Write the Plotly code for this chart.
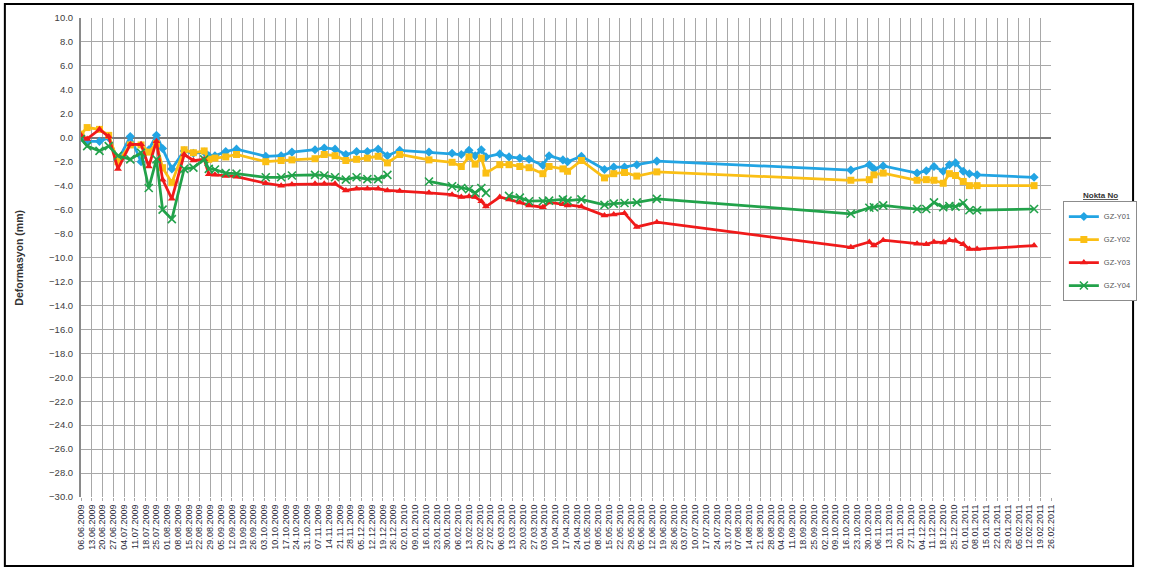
import plotly.graph_objects as go

# Measurement dates (shared by all four survey points)
dates = [
    "2009-06-06", "2009-06-10", "2009-06-18", "2009-06-24", "2009-06-30",
    "2009-07-08", "2009-07-15", "2009-07-20", "2009-07-25", "2009-07-29",
    "2009-08-04", "2009-08-12", "2009-08-18", "2009-08-25", "2009-08-28",
    "2009-09-01", "2009-09-08", "2009-09-15", "2009-10-04", "2009-10-14",
    "2009-10-21", "2009-11-05", "2009-11-11", "2009-11-18", "2009-11-25",
    "2009-12-02", "2009-12-09", "2009-12-16", "2009-12-22", "2009-12-30",
    "2010-01-18", "2010-02-02", "2010-02-08", "2010-02-13", "2010-02-17",
    "2010-02-21", "2010-02-24", "2010-03-05", "2010-03-11", "2010-03-18",
    "2010-03-24", "2010-04-02", "2010-04-06", "2010-04-15", "2010-04-18",
    "2010-04-27", "2010-05-12", "2010-05-18", "2010-05-25", "2010-06-02",
    "2010-06-15", "2010-10-19", "2010-10-31", "2010-11-03", "2010-11-09",
    "2010-12-01", "2010-12-07", "2010-12-12", "2010-12-18", "2010-12-22",
    "2010-12-26", "2010-12-31", "2011-01-04", "2011-01-09", "2011-02-15",
]

gz_y01 = [
    0.0, -0.3, -0.3, 0.0, -1.9, 0.1, -2.0, -1.0, 0.2, -0.9,
    -2.6, -1.1, -1.3, -1.2, -1.5, -1.5, -1.15, -0.95, -1.55, -1.5,
    -1.2, -1.0, -0.85, -0.95, -1.4, -1.15, -1.15, -0.95, -1.5, -1.05,
    -1.2, -1.3, -1.4, -1.05, -1.5, -1.0, -1.6, -1.35, -1.6, -1.7,
    -1.8, -2.3, -1.5, -1.85, -2.0, -1.55, -2.65, -2.45, -2.45, -2.25,
    -1.95, -2.7, -2.25, -2.6, -2.35, -2.95, -2.75, -2.4, -2.8, -2.25,
    -2.1, -2.8, -3.0, -3.1, -3.3,
]

gz_y02 = [
    0.3, 0.85, 0.7, 0.2, -2.0, -0.6, -0.6, -1.2, -0.5, -2.5,
    -3.75, -1.0, -1.25, -1.1, -1.8, -1.7, -1.6, -1.4, -2.0, -1.9,
    -1.85, -1.75, -1.4, -1.5, -1.9, -1.8, -1.7, -1.55, -2.1, -1.4,
    -1.85, -2.05, -2.4, -1.6, -2.2, -1.7, -2.95, -2.25, -2.25, -2.4,
    -2.5, -3.0, -2.4, -2.6, -2.8, -1.9, -3.35, -3.0, -2.9, -3.2,
    -2.85, -3.55, -3.5, -3.1, -2.95, -3.55, -3.5, -3.55, -3.8, -3.0,
    -3.15, -3.65, -4.0, -4.0, -4.0,
]

gz_y03 = [
    0.2, -0.1, 0.7, 0.1, -2.6, -0.55, -0.55, -2.4, -0.3, -3.5,
    -5.1, -1.4, -1.9, -1.8, -3.05, -3.1, -3.2, -3.25, -3.8, -4.0,
    -3.9, -3.85, -3.85, -3.85, -4.4, -4.25, -4.25, -4.25, -4.4, -4.45,
    -4.6, -4.75, -4.95, -4.9, -4.95, -5.3, -5.75, -4.95, -5.15, -5.4,
    -5.65, -5.8, -5.4, -5.55, -5.65, -5.75, -6.5, -6.4, -6.3, -7.45,
    -7.05, -9.15, -8.7, -9.0, -8.55, -8.85, -8.9, -8.7, -8.75, -8.55,
    -8.6, -8.9, -9.3, -9.3, -9.0,
]

gz_y04 = [
    -0.1, -0.7, -1.1, -0.7, -1.5, -1.8, -1.25, -4.2, -1.8, -6.0,
    -6.8, -2.6, -2.5, -1.8, -2.6, -2.65, -2.95, -3.0, -3.3, -3.3,
    -3.15, -3.1, -3.15, -3.3, -3.5, -3.3, -3.45, -3.45, -3.1, None,
    -3.65, -4.05, -4.2, -4.3, -4.6, -4.2, -4.6, None, -4.85, -5.0,
    -5.3, -5.3, -5.25, -5.15, -5.25, -5.15, -5.6, -5.5, -5.45, -5.4,
    -5.1, -6.35, -5.85, -5.8, -5.65, -5.95, -5.95, -5.4, -5.8, -5.7,
    -5.75, -5.45, -6.05, -6.05, -5.95,
]

series_names = ["GZ-Y01", "GZ-Y02", "GZ-Y03", "GZ-Y04"]
series_values = [gz_y01, gz_y02, gz_y03, gz_y04]
series_colors = ["#22a4e3", "#fbbf14", "#f01a1a", "#22a24a"]
series_symbols = ["diamond", "square", "triangle-up", "x-thin"]
series_sizes = [7, 7, 7, 8]

fig = go.Figure()
for name, vals, color, symbol, size in zip(series_names, series_values,
                                           series_colors, series_symbols,
                                           series_sizes):
    marker = dict(symbol=symbol, size=size, color=color)
    if symbol == "x-thin":
        marker["line"] = dict(color=color, width=1.6)
    fig.add_trace(go.Scatter(
        x=dates, y=vals, name=name, legendgroup=name,
        mode="lines+markers",
        line=dict(color=color, width=2.75),
        marker=marker,
        connectgaps=False,
    ))

# plot-area geometry in pixels, used to place the frame and annotations
L, R, T, B = 81, 1062, 18, 497
W, H = 1149, 570
pw, ph = R - L, B - T


def px_x(x):
    return (x - L) / pw


def px_y(y):
    return (B - y) / ph


fig.update_layout(
    width=W, height=H, autosize=False,
    margin=dict(l=L, r=W - R, t=T, b=H - B),
    paper_bgcolor="white", plot_bgcolor="white",
    font=dict(family="Liberation Sans, Arial, sans-serif", color="#333"),
    showlegend=True,
    legend=dict(
        x=px_x(1074), y=px_y(201), xanchor="left", yanchor="top",
        bordercolor="#8c8c8c", borderwidth=1, bgcolor="white",
        font=dict(size=7.5, color="#555"),
        itemwidth=30, tracegroupgap=4,
    ),
    xaxis=dict(
        type="date",
        range=["2009-06-06", "2011-02-26"],
        tick0="2009-06-06", dtick=7 * 86400000,
        tickformat="%d.%m.%Y", tickangle=-90,
        tickfont=dict(size=9, color="#2a2a3a"),
        showgrid=True, gridcolor="#a8a8a8", gridwidth=1,
        ticks="outside", ticklen=3, tickcolor="#a8a8a8",
        showline=False, zeroline=False,
    ),
    yaxis=dict(
        range=[-30, 10], dtick=2, tick0=0, tickformat=".1f",
        tickfont=dict(size=9.5, color="#404040"),
        showgrid=True, gridcolor="#a8a8a8", gridwidth=1,
        zeroline=True, zerolinecolor="#7a7a7a", zerolinewidth=2,
        showline=True, linecolor="#8a8a8a", linewidth=2,
        ticks="", ticklabelstandoff=4,
    ),
    annotations=[
        dict(text="<b>Deformasyon (mm)</b>", textangle=-90,
             x=px_x(18), y=px_y(258), xref="paper", yref="paper",
             xanchor="center", yanchor="middle",
             showarrow=False, font=dict(size=10.5, color="#333")),
        dict(text="<b><u>Nokta No</u></b>",
             x=px_x(1112), y=px_y(195), xref="paper", yref="paper",
             xanchor="center", yanchor="middle",
             showarrow=False, font=dict(size=8, color="#333")),
    ],
    shapes=[
        dict(type="rect", xref="paper", yref="paper",
             x0=px_x(4), x1=px_x(1145), y0=px_y(566), y1=px_y(4),
             line=dict(color="black", width=2), fillcolor="rgba(0,0,0,0)",
             layer="above"),
    ],
)

fig.write_html("out.html")
